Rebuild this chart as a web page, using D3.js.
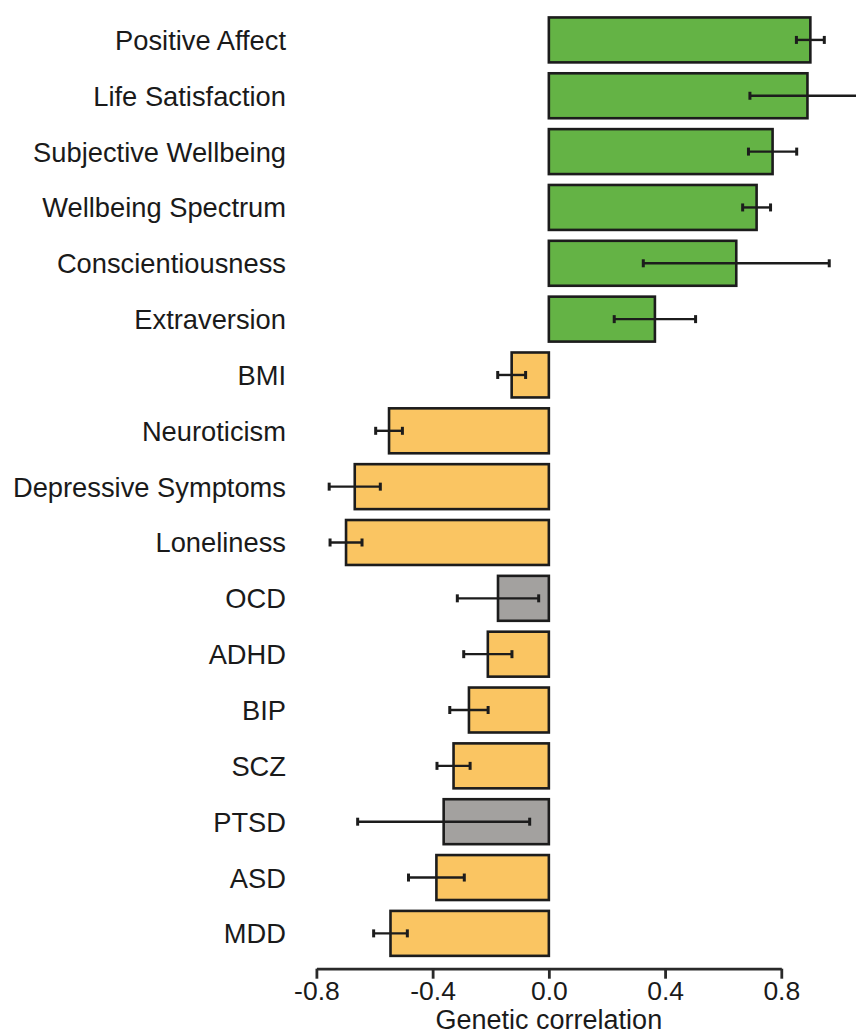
<!DOCTYPE html>
<html>
<head>
<meta charset="utf-8">
<script src="https://cdn.jsdelivr.net/npm/d3@7"></script>
<style>
  html, body { margin: 0; padding: 0; background: #fff; }
  svg { display: block; font-family: "Liberation Sans", Arial, sans-serif; }
</style>
</head>
<body>
<svg id="chart" width="856" height="1035"></svg>
<script>
// Traits, top to bottom
const traits = ["Positive Affect", "Life Satisfaction", "Subjective Wellbeing", "Wellbeing Spectrum",
  "Conscientiousness", "Extraversion", "BMI", "Neuroticism", "Depressive Symptoms", "Loneliness",
  "OCD", "ADHD", "BIP", "SCZ", "PTSD", "ASD", "MDD"];
// Genetic correlation estimates
const rg = [0.90, 0.89, 0.77, 0.715, 0.645, 0.365, -0.128, -0.55, -0.668, -0.698,
  -0.175, -0.21, -0.275, -0.328, -0.362, -0.387, -0.545];
// Half-width of the error bars
const errHalf = [0.048, 0.198, 0.083, 0.048, 0.32, 0.14, 0.048, 0.046, 0.088, 0.055,
  0.14, 0.083, 0.066, 0.057, 0.296, 0.096, 0.058];
// Bar group: positive, negative, not significant
const group = ["pos", "pos", "pos", "pos", "pos", "pos", "neg", "neg", "neg", "neg",
  "ns", "neg", "neg", "neg", "ns", "neg", "neg"];
const xTicks = [-0.8, -0.4, 0.0, 0.4, 0.8];

const data = traits.map((t, i) => ({ trait: t, rg: rg[i], err: errHalf[i], group: group[i] }));

const fillFor = { pos: "#64b345", neg: "#fac562", ns: "#a3a19f" };
const ink = "#1c1c1c";

const svg = d3.select("#chart");

const x = d3.scaleLinear().domain([-0.8, 0.8]).range([316.4, 781.3]);
const y = d3.scaleBand().domain(traits).range([12, 961.3])
  .paddingInner(0.195).paddingOuter(0.0975);

// Bars
svg.append("g").selectAll("rect").data(data).join("rect")
  .attr("x", d => x(Math.min(0, d.rg)))
  .attr("y", d => y(d.trait))
  .attr("width", d => Math.abs(x(d.rg) - x(0)))
  .attr("height", y.bandwidth())
  .attr("fill", d => fillFor[d.group])
  .attr("stroke", ink)
  .attr("stroke-width", 2.6);

// Error bars
const eb = svg.append("g").selectAll("g").data(data).join("g")
  .attr("transform", d => `translate(0,${y(d.trait) + y.bandwidth() / 2})`);
eb.append("line")
  .attr("x1", d => x(d.rg - d.err)).attr("x2", d => x(d.rg + d.err))
  .attr("stroke", ink).attr("stroke-width", 2.4);
eb.selectAll("line.cap").data(d => [d.rg - d.err, d.rg + d.err]).join("line")
  .attr("class", "cap")
  .attr("x1", v => x(v)).attr("x2", v => x(v))
  .attr("y1", -4).attr("y2", 4)
  .attr("stroke", ink).attr("stroke-width", 3);

// Trait labels
svg.append("g").selectAll("text").data(data).join("text")
  .attr("x", 286)
  .attr("y", d => y(d.trait) + y.bandwidth() / 2 + 10)
  .attr("text-anchor", "end")
  .attr("font-size", 27.3)
  .attr("fill", "#1a1a1a")
  .text(d => d.trait);

// X axis
const axis = svg.append("g")
  .attr("transform", "translate(0,968.7)")
  .call(d3.axisBottom(x).tickValues(xTicks).tickFormat(d3.format(".1f"))
    .tickSize(10).tickSizeOuter(0).tickPadding(2.5));
axis.select(".domain").attr("stroke", "#2a2a2a").attr("stroke-width", 2.8);
axis.selectAll(".tick line").attr("stroke", "#2a2a2a").attr("stroke-width", 2.8);
axis.selectAll(".tick text")
  .attr("font-size", 26.5)
  .attr("font-family", "\"Liberation Sans\", Arial, sans-serif")
  .attr("fill", "#1a1a1a")
  .text(d => d3.format(".1f")(d).replace("−", "-"));

svg.append("text")
  .attr("x", x(0))
  .attr("y", 1029)
  .attr("text-anchor", "middle")
  .attr("font-size", 27)
  .attr("fill", "#1a1a1a")
  .text("Genetic correlation");
</script>
</body>
</html>
